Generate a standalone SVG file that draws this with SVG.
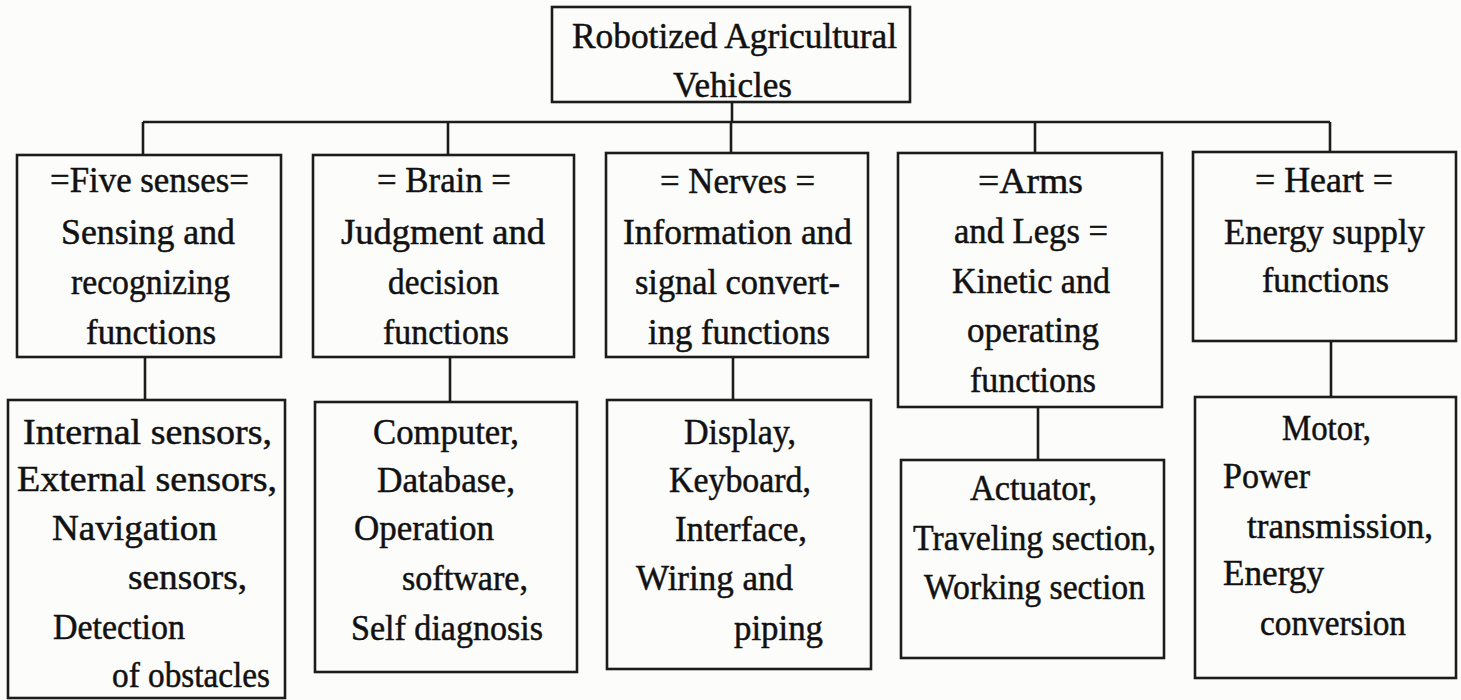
<svg xmlns="http://www.w3.org/2000/svg" width="1461" height="700" viewBox="0 0 1461 700">
<style>
.bg{fill:#fcfcfa}
.box{fill:#fcfcfa;stroke:#1c1c1c;stroke-width:2.6}
.ln{fill:none;stroke:#1c1c1c;stroke-width:2.6}
text{font-family:"Liberation Serif","Times New Roman",serif;font-size:36px;fill:#111;stroke:#111;stroke-width:0.5}
</style>
<rect class="bg" x="0" y="0" width="1461" height="700"/>
<g id="connectors">
<path class="ln" d="M732 102 V122 M143 122 H1330 M143 122 V155 M448 122 V155 M731 122 V153 M1035 122 V153 M1330 122 V152"/>
<path class="ln" d="M145 357 V400 M450 357 V402 M733 357 V400 M1038 407 V460 M1331 341 V397"/>
</g>
<g id="root">
<rect class="box" x="552" y="7" width="358" height="95"/>
<text x="572" y="48" textLength="325" lengthAdjust="spacingAndGlyphs">Robotized Agricultural</text>
<text x="673" y="97" textLength="119" lengthAdjust="spacingAndGlyphs">Vehicles</text>
</g>
<g id="senses">
<rect class="box" x="17" y="155" width="264" height="202"/>
<text x="50" y="192" textLength="199" lengthAdjust="spacingAndGlyphs">=Five senses=</text>
<text x="61" y="244" textLength="174" lengthAdjust="spacingAndGlyphs">Sensing and</text>
<text x="71" y="294" textLength="159" lengthAdjust="spacingAndGlyphs">recognizing</text>
<text x="86" y="344" textLength="130" lengthAdjust="spacingAndGlyphs">functions</text>
</g>
<g id="brain">
<rect class="box" x="313" y="155" width="261" height="202"/>
<text x="377" y="192" textLength="134" lengthAdjust="spacingAndGlyphs">= Brain =</text>
<text x="341" y="244" textLength="204" lengthAdjust="spacingAndGlyphs">Judgment and</text>
<text x="388" y="294" textLength="111" lengthAdjust="spacingAndGlyphs">decision</text>
<text x="383" y="344" textLength="126" lengthAdjust="spacingAndGlyphs">functions</text>
</g>
<g id="nerves">
<rect class="box" x="606" y="153" width="262" height="204"/>
<text x="660" y="193" textLength="155" lengthAdjust="spacingAndGlyphs">= Nerves =</text>
<text x="623" y="244" textLength="229" lengthAdjust="spacingAndGlyphs">Information and</text>
<text x="635" y="294" textLength="205" lengthAdjust="spacingAndGlyphs">signal convert-</text>
<text x="648" y="344" textLength="182" lengthAdjust="spacingAndGlyphs">ing functions</text>
</g>
<g id="arms">
<rect class="box" x="898" y="153" width="264" height="254"/>
<text x="978" y="193" textLength="105" lengthAdjust="spacingAndGlyphs">=Arms</text>
<text x="954" y="243" textLength="154" lengthAdjust="spacingAndGlyphs">and Legs =</text>
<text x="952" y="293" textLength="158" lengthAdjust="spacingAndGlyphs">Kinetic and</text>
<text x="967" y="342" textLength="132" lengthAdjust="spacingAndGlyphs">operating</text>
<text x="970" y="392" textLength="126" lengthAdjust="spacingAndGlyphs">functions</text>
</g>
<g id="heart">
<rect class="box" x="1193" y="152" width="263" height="189"/>
<text x="1255" y="192" textLength="138" lengthAdjust="spacingAndGlyphs">= Heart =</text>
<text x="1224" y="244" textLength="201" lengthAdjust="spacingAndGlyphs">Energy supply</text>
<text x="1262" y="292" textLength="127" lengthAdjust="spacingAndGlyphs">functions</text>
</g>
<g id="sensors">
<rect class="box" x="8" y="400" width="277" height="298"/>
<text x="23" y="444" textLength="249" lengthAdjust="spacingAndGlyphs">Internal sensors,</text>
<text x="17" y="491" textLength="260" lengthAdjust="spacingAndGlyphs">External sensors,</text>
<text x="52" y="540" textLength="165" lengthAdjust="spacingAndGlyphs">Navigation</text>
<text x="128" y="589" textLength="119" lengthAdjust="spacingAndGlyphs">sensors,</text>
<text x="53" y="639" textLength="132" lengthAdjust="spacingAndGlyphs">Detection</text>
<text x="112" y="687" textLength="158" lengthAdjust="spacingAndGlyphs">of obstacles</text>
</g>
<g id="computer">
<rect class="box" x="315" y="402" width="262" height="270"/>
<text x="373" y="444" textLength="146" lengthAdjust="spacingAndGlyphs">Computer,</text>
<text x="377" y="492" textLength="138" lengthAdjust="spacingAndGlyphs">Database,</text>
<text x="354" y="540" textLength="140" lengthAdjust="spacingAndGlyphs">Operation</text>
<text x="402" y="590" textLength="126" lengthAdjust="spacingAndGlyphs">software,</text>
<text x="351" y="640" textLength="192" lengthAdjust="spacingAndGlyphs">Self diagnosis</text>
</g>
<g id="display">
<rect class="box" x="607" y="400" width="264" height="269"/>
<text x="684" y="444" textLength="112" lengthAdjust="spacingAndGlyphs">Display,</text>
<text x="669" y="492" textLength="142" lengthAdjust="spacingAndGlyphs">Keyboard,</text>
<text x="675" y="541" textLength="132" lengthAdjust="spacingAndGlyphs">Interface,</text>
<text x="636" y="590" textLength="157" lengthAdjust="spacingAndGlyphs">Wiring and</text>
<text x="734" y="640" textLength="89" lengthAdjust="spacingAndGlyphs">piping</text>
</g>
<g id="actuator">
<rect class="box" x="901" y="460" width="263" height="198"/>
<text x="970" y="500" textLength="127" lengthAdjust="spacingAndGlyphs">Actuator,</text>
<text x="913" y="550" textLength="243" lengthAdjust="spacingAndGlyphs">Traveling section,</text>
<text x="924" y="599" textLength="221" lengthAdjust="spacingAndGlyphs">Working section</text>
</g>
<g id="motor">
<rect class="box" x="1195" y="397" width="261" height="281"/>
<text x="1282" y="440" textLength="89" lengthAdjust="spacingAndGlyphs">Motor,</text>
<text x="1223" y="488" textLength="87" lengthAdjust="spacingAndGlyphs">Power</text>
<text x="1247" y="538" textLength="186" lengthAdjust="spacingAndGlyphs">transmission,</text>
<text x="1223" y="585" textLength="101" lengthAdjust="spacingAndGlyphs">Energy</text>
<text x="1260" y="635" textLength="146" lengthAdjust="spacingAndGlyphs">conversion</text>
</g>
</svg>
